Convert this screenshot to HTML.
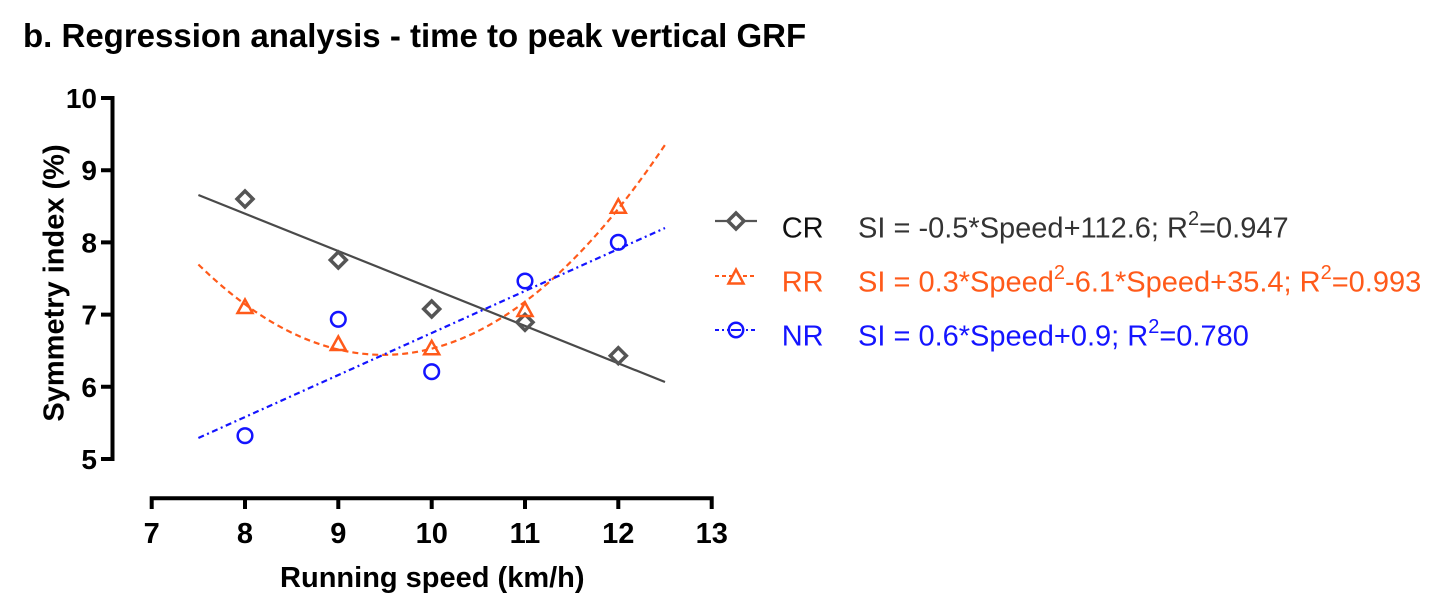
<!DOCTYPE html>
<html>
<head>
<meta charset="utf-8">
<style>
  html, body { margin: 0; padding: 0; background: #ffffff; }
  svg { display: block; }
  text { font-family: "Liberation Sans", Arial, Helvetica, sans-serif; }
  .b { font-weight: bold; }
</style>
</head>
<body>
<svg width="1437" height="605" viewBox="0 0 1437 605" xmlns="http://www.w3.org/2000/svg">
  <rect x="0" y="0" width="1437" height="605" fill="#ffffff"/>

  <!-- Title -->
  <text x="23" y="47" class="b" font-size="33" fill="#000">b. Regression analysis - time to peak vertical GRF</text>

  <!-- Y axis -->
  <path d="M101,98 H112.5 V459 H101 M101,170.2 H112.5 M101,242.4 H112.5 M101,314.6 H112.5 M101,386.8 H112.5"
        fill="none" stroke="#000" stroke-width="4" stroke-linejoin="miter"/>
  <g class="b" font-size="28" fill="#000" text-anchor="end">
    <text x="97" y="108">10</text>
    <text x="97" y="180.2">9</text>
    <text x="97" y="252.4">8</text>
    <text x="97" y="324.6">7</text>
    <text x="97" y="396.8">6</text>
    <text x="97" y="469">5</text>
  </g>
  <text transform="translate(63.5,283) rotate(-90)" class="b" font-size="29" fill="#000" text-anchor="middle">Symmetry index (%)</text>

  <!-- X axis -->
  <path d="M151.7,509 V498.3 H711.7 V509 M245,498.3 V509 M338.3,498.3 V509 M431.7,498.3 V509 M525,498.3 V509 M618.3,498.3 V509"
        fill="none" stroke="#000" stroke-width="4" stroke-linejoin="miter"/>
  <g class="b" font-size="29" fill="#000" text-anchor="middle">
    <text x="151.7" y="543">7</text>
    <text x="245" y="543">8</text>
    <text x="338.3" y="543">9</text>
    <text x="431.7" y="543">10</text>
    <text x="525" y="543">11</text>
    <text x="618.3" y="543">12</text>
    <text x="711.7" y="543">13</text>
  </g>
  <text x="432.3" y="587" class="b" font-size="29" fill="#000" text-anchor="middle">Running speed (km/h)</text>

  <!-- CR regression line -->
  <line x1="198.4" y1="195" x2="665" y2="382" stroke="#4a4a4a" stroke-width="2.2"/>
  <!-- RR quadratic fit -->
  <path d="M198.4,264.5 Q431.7,492.6 665,144.9" fill="none" stroke="#ff5a1a" stroke-width="2.2" stroke-dasharray="6 4"/>
  <!-- NR regression line -->
  <line x1="198.4" y1="438" x2="665" y2="228" stroke="#1414ff" stroke-width="2.2" stroke-dasharray="6 3.5 2 3.5"/>

  <!-- CR diamonds -->
  <g fill="none" stroke="#555" stroke-width="3.5" stroke-linejoin="miter">
    <path d="M245,191 L253,199 L245,207 L237,199 Z"/>
    <path d="M338.3,252 L346.3,260 L338.3,268 L330.3,260 Z"/>
    <path d="M431.7,301 L439.7,309 L431.7,317 L423.7,309 Z"/>
    <path d="M525,314.3 L533,322.3 L525,330.3 L517,322.3 Z"/>
    <path d="M618.3,347.7 L626.3,355.7 L618.3,363.7 L610.3,355.7 Z"/>
  </g>

  <!-- RR triangles -->
  <g fill="none" stroke="#ff5a1a" stroke-width="2.5" stroke-linejoin="miter">
    <path d="M245,299.5 L252.5,313 L237.5,313 Z"/>
    <path d="M338.3,336.5 L345.8,350 L330.8,350 Z"/>
    <path d="M431.7,340.8 L439.2,354.3 L424.2,354.3 Z"/>
    <path d="M525,302.5 L532.5,316 L517.5,316 Z"/>
    <path d="M618.3,199.2 L625.8,212.7 L610.8,212.7 Z"/>
  </g>

  <!-- NR circles -->
  <g fill="none" stroke="#1414ff" stroke-width="2.5">
    <circle cx="245" cy="435.7" r="7.3"/>
    <circle cx="338.3" cy="319.3" r="7.3"/>
    <circle cx="431.7" cy="371.7" r="7.3"/>
    <circle cx="525" cy="281" r="7.3"/>
    <circle cx="618.3" cy="242.3" r="7.3"/>
  </g>

  <!-- Legend -->
  <!-- CR -->
  <line x1="715" y1="221" x2="757" y2="221" stroke="#555" stroke-width="2.2"/>
  <path d="M736,213 L744,221 L736,229 L728,221 Z" fill="#fff" stroke="#555" stroke-width="3.5"/>
  <text x="781.7" y="237.5" font-size="29" fill="#111">CR</text>
  <text x="858" y="237.5" font-size="29" fill="#333">SI = -0.5*Speed+112.6; R<tspan font-size="20" dy="-12.5">2</tspan><tspan dy="12.5">=0.947</tspan></text>

  <!-- RR -->
  <line x1="715" y1="276" x2="757" y2="276" stroke="#ff5a1a" stroke-width="2" stroke-dasharray="4 3"/>
  <path d="M736,269.5 L743.5,283.5 L728.5,283.5 Z" fill="#fff" stroke="#ff5a1a" stroke-width="2.5"/>
  <text x="781.7" y="291.5" font-size="29" fill="#ff5a1a">RR</text>
  <text x="858" y="291.5" font-size="29" fill="#ff5a1a">SI = 0.3*Speed<tspan font-size="20" dy="-12.5">2</tspan><tspan dy="12.5">-6.1*Speed+35.4; R</tspan><tspan font-size="20" dy="-12.5">2</tspan><tspan dy="12.5">=0.993</tspan></text>

  <!-- NR -->
  <line x1="715" y1="330" x2="757" y2="330" stroke="#1414ff" stroke-width="2" stroke-dasharray="4 3 2 3"/>
  <circle cx="736" cy="330" r="7.2" fill="#fff" stroke="#1414ff" stroke-width="2.5"/>
  <line x1="731" y1="330" x2="741" y2="330" stroke="#1414ff" stroke-width="2"/>
  <text x="781.7" y="345.5" font-size="29" fill="#1414ff">NR</text>
  <text x="858" y="345.5" font-size="29" fill="#1414ff">SI = 0.6*Speed+0.9; R<tspan font-size="20" dy="-12.5">2</tspan><tspan dy="12.5">=0.780</tspan></text>
</svg>
</body>
</html>
